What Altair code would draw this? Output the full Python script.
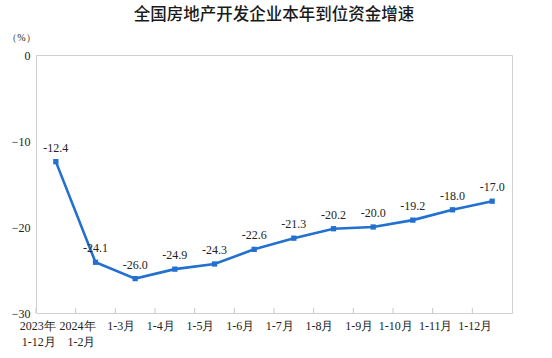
import altair as alt
import pandas as pd

categories = ["2023年\n1-12月", "2024年\n1-2月", "1-3月", "1-4月", "1-5月", "1-6月",
              "1-7月", "1-8月", "1-9月", "1-10月", "1-11月", "1-12月"]
values = [-12.4, -24.1, -26.0, -24.9, -24.3, -22.6, -21.3, -20.2, -20.0, -19.2, -18.0, -17.0]
y_ticks = [0, -10, -20, -30]

df = pd.DataFrame({"cat": categories, "val": values,
                   "lab": [f"{v:.1f}" for v in values]})

W, H = 476, 258
color = "#2270d0"
serif = "'Liberation Serif', 'Times New Roman', serif"
txt = "#222222"

x_enc = alt.X("cat:N", sort=categories, scale=alt.Scale(type="band", paddingInner=0, paddingOuter=0),
              axis=alt.Axis(title=None, labelExpr="split(datum.label, '\\n')", labelAngle=0,
                            labelFont=serif, labelFontSize=12, labelColor=txt,
                            labelPadding=7, labelLineHeight=16, domain=False, ticks=False,
                            labelBaseline="top"))
y_enc = alt.Y("val:Q", scale=alt.Scale(domain=[-30, 0], nice=False),
              axis=alt.Axis(values=y_ticks, title="（%）", titleAngle=0, titleAlign="center",
                            titleX=-15, titleY=-13, titleFont=serif, titleFontSize=10,
                            titleFontWeight="normal", titleColor=txt,
                            labelFont=serif, labelFontSize=12, labelColor=txt,
                            labelPadding=6, grid=False, domain=False, ticks=False))

base = alt.Chart(df)

line = base.mark_line(color=color, strokeWidth=2.6).encode(x=x_enc, y=y_enc)
pts = base.mark_point(shape="square", filled=True, size=28, color=color, opacity=1).encode(
    x=alt.X("cat:N", sort=categories), y="val:Q")
labels = base.mark_text(dy=-14, font=serif, fontSize=12, color=txt).encode(
    x=alt.X("cat:N", sort=categories), y="val:Q", text="lab:N")
ticks = base.mark_rule(color="#c8c8c8", strokeWidth=1).encode(
    x=alt.X("cat:N", sort=categories, bandPosition=0),
    y=alt.value(H - 5), y2=alt.value(H))

chart = alt.layer(ticks, line, pts, labels).properties(
    width=W, height=H,
    title=alt.TitleParams("全国房地产开发企业本年到位资金增速", font="Noto Sans CJK SC",
                          fontSize=16.5, fontWeight=500, color="#1a1a1a",
                          anchor="middle", offset=9),
    padding={"left": 36, "top": 55, "right": 40, "bottom": 45},
    autosize=alt.AutoSizeParams(type="none"),
).configure_view(stroke="#d0d0d0", strokeWidth=1)

chart.save("out.html", embed_options={"renderer": "svg", "actions": False})
